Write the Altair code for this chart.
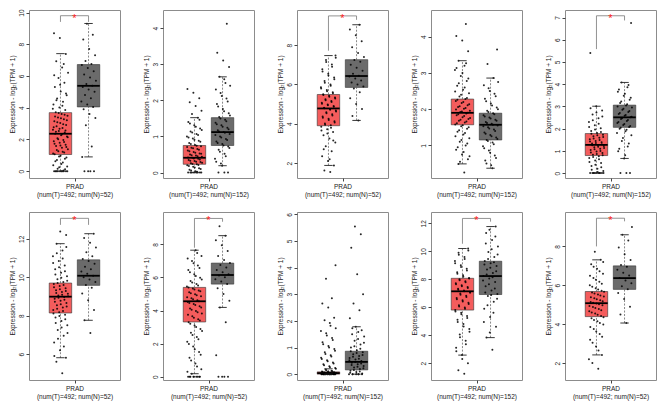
import altair as alt
import pandas as pd

# ---------------- data ----------------
cancer = "PRAD"
num_tumor = 492
num_normal = [52, 152, 52, 152, 152, 52, 52, 152, 152, 52]

y_domains = [[-0.43, 10.16], [-0.15, 4.5], [1.24, 9.79], [0.10, 4.74], [-0.22, 7.34],
             [4.65, 13.40], [-0.2, 9.96], [-0.22, 6.09], [0.80, 12.81], [1.13, 9.77]]
y_ticks = [[0, 2, 4, 6, 8, 10], [0, 1, 2, 3, 4], [2, 4, 6, 8], [1, 2, 3, 4], [0, 1, 2, 3, 4, 5, 6, 7],
           [6, 8, 10, 12], [0, 2, 4, 6, 8], [0, 1, 2, 3, 4, 5, 6], [2, 4, 6, 8, 10, 12], [2, 4, 6, 8]]

# box statistics: lower whisker, q1, median, q3, upper whisker
tumor_stats = [[0, 1.05, 2.36, 3.69, 7.41], [0, 0.23, 0.41, 0.75, 1.52], [1.88, 3.90, 4.78, 5.49, 7.47],
               [0.49, 1.57, 1.90, 2.28, 3.34], [0, 0.79, 1.27, 1.78, 3.01], [5.81, 8.14, 8.99, 9.70, 11.75],
               [0.18, 3.31, 4.56, 5.40, 7.65], [0, 0.0, 0.04, 0.085, 0.2], [2.58, 5.80, 7.14, 8.07, 10.20],
               [2.42, 4.39, 5.08, 5.68, 7.31]]
normal_stats = [[0.9, 4.05, 5.38, 6.72, 9.31], [0.19, 0.75, 1.12, 1.52, 2.65], [4.17, 5.85, 6.43, 7.26, 9.04],
                [0.37, 1.15, 1.57, 1.89, 2.86], [0.66, 2.06, 2.51, 3.06, 4.08], [7.76, 9.58, 10.08, 10.91, 12.27],
                [4.19, 5.60, 6.15, 6.87, 8.53], [0, 0.16, 0.46, 0.86, 1.78], [3.83, 6.91, 8.23, 9.29, 11.77],
                [4.06, 5.79, 6.37, 7.00, 8.60]]

# significance bracket: top (star) level, left foot, right foot (None = not significant)
star_level = [9.80, None, 9.49, None, 7.08, 13.07, 9.57, None, 12.35, 9.45]
bracket_left = [9.41, None, 7.72, None, 5.58, 12.73, 7.80, None, 10.54, 8.00]
bracket_right = [9.41, None, 9.29, None, 6.87, 12.73, 9.37, None, 12.12, 9.29]

tumor_points = [
    [0, 0, 0, 0, 0, 0, 0, 0, 0, 0, 0.12, 0.25, 0.38, 0.55, 0.71, 0.86, 0.98, 1.07, 1.18, 1.26, 1.39, 1.47,
     1.58, 1.66, 1.79, 1.88, 1.97, 2.08, 2.19, 2.27, 2.36, 2.44, 2.53, 2.61, 2.72, 2.83, 2.91, 3.04, 3.15,
     3.27, 3.38, 3.49, 3.61, 3.72, 3.86, 4.02, 4.21, 4.37, 4.58, 4.79, 5.02, 5.31, 5.58, 5.87, 6.2, 6.54,
     6.93, 7.38, 8.4, 8.7],
    [0, 0, 0, 0, 0, 0, 0, 0, 0.04, 0.08, 0.12, 0.16, 0.2, 0.23, 0.26, 0.29, 0.32, 0.35, 0.38, 0.41, 0.44,
     0.47, 0.5, 0.53, 0.57, 0.61, 0.65, 0.69, 0.73, 0.76, 0.82, 0.88, 0.94, 1.0, 1.07, 1.14, 1.22, 1.31,
     1.4, 1.52, 1.62, 1.71, 1.84, 1.95, 2.06, 2.21, 2.31],
    [1.55, 1.62, 1.88, 2.1, 2.35, 2.6, 2.85, 3.05, 3.25, 3.42, 3.58, 3.72, 3.85, 3.92, 4.02, 4.13, 4.25,
     4.37, 4.48, 4.58, 4.67, 4.75, 4.82, 4.9, 4.98, 5.07, 5.16, 5.25, 5.34, 5.43, 5.5, 5.6, 5.72, 5.86,
     6.0, 6.18, 6.36, 6.55, 6.78, 7.02, 7.25, 7.47],
    [0.25, 0.49, 0.62, 0.75, 0.88, 1.0, 1.1, 1.2, 1.3, 1.38, 1.46, 1.53, 1.58, 1.63, 1.68, 1.73, 1.78,
     1.83, 1.88, 1.92, 1.96, 2.01, 2.06, 2.11, 2.17, 2.23, 2.28, 2.35, 2.44, 2.54, 2.65, 2.78, 2.92, 3.08,
     3.2, 3.34, 3.6, 3.9, 4.02, 4.35],
    [0, 0, 0, 0, 0, 0, 0, 0.1, 0.2, 0.32, 0.45, 0.57, 0.68, 0.76, 0.83, 0.9, 0.97, 1.04, 1.1, 1.16, 1.22,
     1.27, 1.33, 1.39, 1.45, 1.52, 1.59, 1.66, 1.73, 1.8, 1.9, 2.02, 2.15, 2.3, 2.47, 2.64, 2.82, 3.01, 5.41],
    [5.0, 5.6, 5.81, 6.2, 6.6, 6.95, 7.25, 7.5, 7.72, 7.9, 8.05, 8.18, 8.3, 8.42, 8.54, 8.66, 8.78, 8.88,
     8.97, 9.05, 9.14, 9.23, 9.33, 9.43, 9.54, 9.65, 9.75, 9.9, 10.06, 10.23, 10.42, 10.62, 10.85, 11.1,
     11.4, 11.75, 12.2, 12.39],
    [0, 0, 0, 0, 0, 0, 0.18, 0.45, 0.8, 1.15, 1.5, 1.82, 2.12, 2.4, 2.65, 2.88, 3.1, 3.3, 3.48, 3.65, 3.82,
     3.98, 4.12, 4.26, 4.4, 4.52, 4.62, 4.74, 4.86, 4.98, 5.1, 5.22, 5.34, 5.45, 5.6, 5.78, 5.98, 6.2, 6.45,
     6.72, 7.0, 7.3, 7.65],
    [0, 0, 0, 0, 0, 0, 0, 0, 0, 0, 0.01, 0.02, 0.03, 0.04, 0.05, 0.06, 0.07, 0.085, 0.11, 0.15, 0.2, 0.26,
     0.33, 0.4, 0.48, 0.57, 0.66, 0.76, 0.88, 1.0, 1.12, 1.28, 1.45, 1.62, 1.82, 2.02, 2.12, 2.5, 2.65,
     2.85, 3.58, 4.09],
    [1.24, 1.5, 2.0, 2.58, 3.1, 3.6, 4.05, 4.45, 4.8, 5.1, 5.38, 5.6, 5.8, 5.98, 6.15, 6.32, 6.5, 6.66,
     6.82, 6.98, 7.1, 7.2, 7.32, 7.45, 7.58, 7.72, 7.86, 8.0, 8.1, 8.28, 8.5, 8.75, 9.0, 9.3, 9.6, 9.9, 10.2],
    [1.71, 2.0, 2.42, 2.85, 3.2, 3.5, 3.75, 3.98, 4.15, 4.3, 4.42, 4.55, 4.67, 4.78, 4.88, 4.98, 5.06,
     5.14, 5.23, 5.33, 5.43, 5.53, 5.63, 5.72, 5.85, 6.0, 6.18, 6.38, 6.6, 6.85, 7.08, 7.31, 7.73],
]
# further tumour samples read from the dense part of each cloud
tumor_points_more = [
    [0.05, 0.15, 0.3, 0.45, 0.62, 0.78, 0.93, 1.12, 1.22, 1.33, 1.52, 1.62, 1.73, 1.84, 2.02, 2.14, 2.31,
     2.48, 2.57, 2.67, 2.77, 2.96, 3.09, 3.21, 3.33, 3.44, 3.55, 3.66, 3.94, 4.12, 4.47, 4.9, 5.45, 6.05, 6.75],
    [0.02, 0.06, 0.1, 0.14, 0.18, 0.21, 0.24, 0.27, 0.3, 0.33, 0.36, 0.39, 0.42, 0.45, 0.48, 0.52, 0.55,
     0.59, 0.63, 0.67, 0.71, 0.74, 0.79, 0.85, 0.91, 0.97, 1.04, 1.11, 1.18, 1.27, 1.36, 1.46],
    [2.2, 2.7, 3.15, 3.5, 3.66, 3.8, 3.95, 4.07, 4.19, 4.31, 4.42, 4.53, 4.62, 4.71, 4.79, 4.86, 4.94, 5.02,
     5.11, 5.2, 5.29, 5.38, 5.46, 5.55, 5.66, 5.79, 5.93, 6.09, 6.27, 6.46, 6.66, 6.9, 7.14, 7.36],
    [0.55, 0.7, 0.82, 0.95, 1.05, 1.15, 1.25, 1.34, 1.42, 1.5, 1.56, 1.61, 1.66, 1.71, 1.76, 1.81, 1.86,
     1.9, 1.94, 1.99, 2.03, 2.08, 2.14, 2.2, 2.26, 2.31, 2.4, 2.49, 2.6, 2.72, 2.85, 3.0, 3.14, 3.27],
    [0, 0, 0, 0.05, 0.15, 0.26, 0.38, 0.5, 0.62, 0.72, 0.8, 0.86, 0.93, 1.0, 1.07, 1.13, 1.19, 1.25, 1.3,
     1.36, 1.42, 1.49, 1.56, 1.63, 1.7, 1.77, 1.85, 1.96, 2.08, 2.22, 2.38, 2.55, 2.73, 2.92],
    [5.9, 6.4, 6.8, 7.1, 7.38, 7.62, 7.82, 7.98, 8.12, 8.24, 8.36, 8.48, 8.6, 8.72, 8.83, 8.93, 9.01, 9.09,
     9.18, 9.28, 9.38, 9.48, 9.6, 9.7, 9.82, 9.98, 10.14, 10.32, 10.52, 10.74, 10.98, 11.25, 11.58],
    [0, 0, 0, 0.3, 0.62, 0.98, 1.32, 1.66, 1.97, 2.26, 2.52, 2.77, 3.0, 3.2, 3.4, 3.56, 3.74, 3.9, 4.05,
     4.19, 4.33, 4.46, 4.57, 4.68, 4.8, 4.92, 5.04, 5.16, 5.28, 5.4, 5.52, 5.69, 5.88, 6.09, 6.32, 6.58,
     6.86, 7.15, 7.48],
    [0, 0, 0, 0, 0, 0, 0, 0, 0.005, 0.015, 0.025, 0.035, 0.045, 0.055, 0.065, 0.075, 0.09, 0.1, 0.13, 0.17,
     0.23, 0.3, 0.37, 0.44, 0.52, 0.62, 0.71, 0.82, 0.94, 1.06, 1.2, 1.36, 1.54, 1.72, 1.92],
    [2.3, 2.85, 3.35, 3.85, 4.25, 4.62, 4.95, 5.24, 5.5, 5.7, 5.89, 6.06, 6.24, 6.41, 6.58, 6.74, 6.9,
     7.04, 7.15, 7.26, 7.38, 7.51, 7.65, 7.79, 7.93, 8.05, 8.19, 8.39, 8.62, 8.88, 9.15, 9.45, 9.75, 10.05],
    [2.2, 2.65, 3.05, 3.35, 3.62, 3.86, 4.06, 4.22, 4.36, 4.48, 4.6, 4.72, 4.83, 4.93, 5.02, 5.1, 5.18,
     5.28, 5.38, 5.48, 5.58, 5.67, 5.78, 5.92, 6.08, 6.28, 6.49, 6.72, 6.96, 7.2],
]
normal_points = [
    [0, 0, 0, 0, 0.9, 1.55, 2.9, 3.35, 3.6, 3.9, 4.05, 4.2, 4.4, 4.6, 4.8, 5.0, 5.15, 5.3, 5.38, 5.5, 5.7,
     5.9, 6.1, 6.3, 6.5, 6.7, 6.75, 6.95, 7.3, 7.7, 8.3, 8.6, 9.3],
    [0, 0, 0, 0.19, 0.3, 0.45, 0.58, 0.68, 0.75, 0.82, 0.9, 0.97, 1.04, 1.1, 1.14, 1.2, 1.27, 1.34, 1.42,
     1.5, 1.58, 1.7, 1.83, 1.97, 2.12, 2.3, 2.48, 2.65, 2.92, 3.1, 3.32, 4.12],
    [4.17, 4.4, 4.75, 5.0, 5.3, 5.6, 5.8, 5.9, 6.0, 6.1, 6.2, 6.3, 6.4, 6.45, 6.55, 6.7, 6.85, 7.0, 7.15,
     7.25, 7.4, 7.6, 7.9, 8.2, 8.5, 8.8, 9.04],
    [0.37, 0.5, 0.65, 0.8, 0.92, 1.03, 1.12, 1.18, 1.25, 1.32, 1.4, 1.47, 1.53, 1.57, 1.62, 1.68, 1.74,
     1.8, 1.86, 1.92, 2.0, 2.1, 2.22, 2.36, 2.5, 2.66, 2.86, 3.25, 3.65],
    [0, 0, 0, 0.66, 0.98, 1.2, 1.45, 1.7, 1.88, 2.0, 2.08, 2.17, 2.26, 2.35, 2.43, 2.51, 2.58, 2.66, 2.75,
     2.85, 2.95, 3.04, 3.15, 3.3, 3.48, 3.66, 3.86, 4.08, 6.75],
    [7.1, 7.76, 8.3, 8.8, 9.15, 9.45, 9.6, 9.75, 9.88, 10.0, 10.08, 10.18, 10.3, 10.42, 10.55, 10.7, 10.85,
     10.95, 11.1, 11.3, 11.55, 11.8, 12.05, 12.27],
    [0, 0, 0, 0, 1.3, 3.3, 4.19, 4.6, 5.0, 5.35, 5.6, 5.75, 5.9, 6.02, 6.12, 6.2, 6.32, 6.45, 6.6, 6.75,
     6.87, 7.05, 7.3, 7.6, 7.95, 8.25, 8.53, 9.1],
    [0, 0, 0, 0, 0.05, 0.1, 0.16, 0.22, 0.28, 0.34, 0.4, 0.46, 0.52, 0.58, 0.65, 0.72, 0.79, 0.86, 0.95,
     1.05, 1.18, 1.32, 1.5, 1.65, 1.78, 2.1, 2.4, 2.65, 3.0, 3.75, 4.75, 5.25, 5.55],
    [2.97, 3.83, 4.6, 5.3, 5.9, 6.4, 6.8, 6.95, 7.2, 7.5, 7.8, 8.05, 8.23, 8.45, 8.7, 8.95, 9.15, 9.3, 9.6,
     9.95, 10.35, 10.8, 11.3, 11.77],
    [4.06, 4.5, 4.9, 5.3, 5.6, 5.8, 5.95, 6.1, 6.25, 6.37, 6.5, 6.65, 6.8, 6.95, 7.05, 7.3, 7.6, 7.95, 8.3,
     8.6, 9.0],
]
# further normal samples (panels with 152 normal samples have denser clouds)
normal_points_more = [
    [],
    [0.25, 0.38, 0.52, 0.63, 0.72, 0.79, 0.86, 0.93, 1.0, 1.07, 1.12, 1.17, 1.24, 1.31, 1.38, 1.46, 1.54,
     1.64, 1.76, 1.9, 2.05, 2.2, 2.4, 2.58],
    [],
    [0.45, 0.58, 0.72, 0.86, 0.98, 1.08, 1.15, 1.22, 1.29, 1.36, 1.44, 1.5, 1.55, 1.6, 1.65, 1.71, 1.77,
     1.83, 1.89, 1.96, 2.05, 2.16, 2.29, 2.43, 2.58, 2.75],
    [0.8, 1.1, 1.33, 1.58, 1.8, 1.95, 2.04, 2.12, 2.21, 2.3, 2.39, 2.47, 2.54, 2.62, 2.7, 2.8, 2.9, 3.0,
     3.1, 3.22, 3.39, 3.57, 3.76, 3.97],
    [],
    [],
    [0, 0, 0, 0.02, 0.08, 0.13, 0.19, 0.25, 0.31, 0.37, 0.43, 0.49, 0.55, 0.61, 0.68, 0.75, 0.82, 0.9, 1.0,
     1.11, 1.25, 1.41, 1.58, 1.72],
    [4.2, 4.95, 5.6, 6.15, 6.6, 6.88, 7.05, 7.35, 7.65, 7.92, 8.15, 8.35, 8.58, 8.82, 9.05, 9.22, 9.45,
     9.78, 10.15, 10.55, 11.05, 11.55],
    [],
]

groups = ["Tumor", "Normal"]
box_colors = ["#F45C5C", "#6B6B6B"]

# ---------------- styling ----------------
FONT = "Liberation Sans"
W, H = 91, 168
POS = "datum.group == 'Tumor' ? 1 : 2"
ytitle = "Expression - log\u2082(TPM + 1)"


def panel(i):
    tp = tumor_points[i] + tumor_points_more[i]
    npts = normal_points[i] + normal_points_more[i]
    pts = pd.DataFrame({"group": ["Tumor"] * len(tp) + ["Normal"] * len(npts), "value": tp + npts})
    ts, ns = tumor_stats[i], normal_stats[i]
    stats = pd.DataFrame({
        "group": groups,
        "wlo": [ts[0], ns[0]], "q1": [ts[1], ns[1]], "med": [ts[2], ns[2]],
        "q3": [ts[3], ns[3]], "whi": [ts[4], ns[4]],
    })
    xs = alt.Scale(domain=[-0.12, 3.12], nice=False, zero=False)
    ys = alt.Scale(domain=y_domains[i], nice=False, zero=False)
    xax = alt.Axis(values=[1.5], labelExpr=f"'{cancer}'",
                   title=f"(num(T)={num_tumor}; num(N)={num_normal[i]})",
                   domain=False, grid=False, tickSize=3, tickColor="#444444", labelPadding=2,
                   titlePadding=2)
    yax = alt.Axis(values=y_ticks[i], title=ytitle, labelAngle=270, domain=False, grid=False,
                   tickSize=3, tickColor="#444444", labelPadding=2, titlePadding=3)

    def X(f):
        return alt.X(f, scale=xs, axis=xax, title=xax.title)

    def Y(f):
        return alt.Y(f, scale=ys, axis=yax, title=ytitle)

    base = alt.Chart(stats).transform_calculate(
        pos=POS, lo="datum.pos - 0.4", hi="datum.pos + 0.4",
        clo="datum.pos - 0.15", chi="datum.pos + 0.15")

    box = base.mark_bar(stroke="#333333", strokeWidth=0.6).encode(
        x=X("lo:Q"), x2="hi:Q", y=Y("q1:Q"), y2="q3:Q",
        color=alt.Color("group:N", scale=alt.Scale(domain=groups, range=box_colors), legend=None),
    )
    wup = base.mark_rule(color="#555555", strokeDash=[2, 1.5], strokeWidth=0.7).encode(
        x=X("pos:Q"), y=Y("q3:Q"), y2="whi:Q")
    wlo = base.mark_rule(color="#555555", strokeDash=[2, 1.5], strokeWidth=0.7).encode(
        x=X("pos:Q"), y=Y("wlo:Q"), y2="q1:Q")
    cup = base.mark_rule(color="#222222", strokeWidth=0.9).encode(
        x=X("clo:Q"), x2="chi:Q", y=Y("whi:Q"))
    clo = base.mark_rule(color="#222222", strokeWidth=0.9).encode(
        x=X("clo:Q"), x2="chi:Q", y=Y("wlo:Q"))
    med = base.mark_rule(color="#000000", strokeWidth=1.8).encode(
        x=X("lo:Q"), x2="hi:Q", y=Y("med:Q"))

    dots = alt.Chart(pts).transform_window(
        rn="row_number()", groupby=["group"]
    ).transform_calculate(
        pos=POS, jx="datum.pos + ((datum.rn * 0.618034) % 1 - 0.5) * 0.55"
    ).mark_circle(size=4, color="#000000", opacity=0.85).encode(
        x=X("jx:Q"), y=Y("value:Q"))

    layers = [box, wup, wlo, dots, med, cup, clo]

    if star_level[i] is not None:
        legs = pd.DataFrame({"group": groups, "foot": [bracket_left[i], bracket_right[i]],
                             "top": [star_level[i], star_level[i]]})
        leg = alt.Chart(legs).transform_calculate(pos=POS).mark_rule(
            color="#777777", strokeWidth=0.8).encode(
            x=X("pos:Q"), y=Y("foot:Q"), y2="top:Q")
        topdf = pd.DataFrame({"top": [star_level[i]], "a": [1], "b": [2], "mid": [1.5]})
        bar = alt.Chart(topdf).mark_rule(color="#777777", strokeWidth=0.8).encode(
            x=X("a:Q"), x2="b:Q", y=Y("top:Q"))
        star = alt.Chart(topdf).mark_text(
            text="*", color="#FF2020", fontSize=11, font=FONT, baseline="middle", dy=3).encode(
            x=X("mid:Q"), y=Y("top:Q"))
        layers += [leg, bar, star]

    return alt.layer(*layers).properties(width=W, height=H)


row1 = alt.hconcat(*[panel(i) for i in range(5)], spacing=21)
row2 = alt.hconcat(*[panel(i) for i in range(5, 10)], spacing=21)

chart = alt.vconcat(row1, row2, spacing=12).properties(
    padding=0
).configure_view(
    stroke="#8C8C8C", strokeWidth=1
).configure_axis(
    labelFont=FONT, titleFont=FONT, labelFontSize=6.5, titleFontSize=6.5,
    titleFontWeight="normal", labelColor="#222222", titleColor="#222222"
)

chart.save("out.html", embed_options={"renderer": "svg", "actions": False})
